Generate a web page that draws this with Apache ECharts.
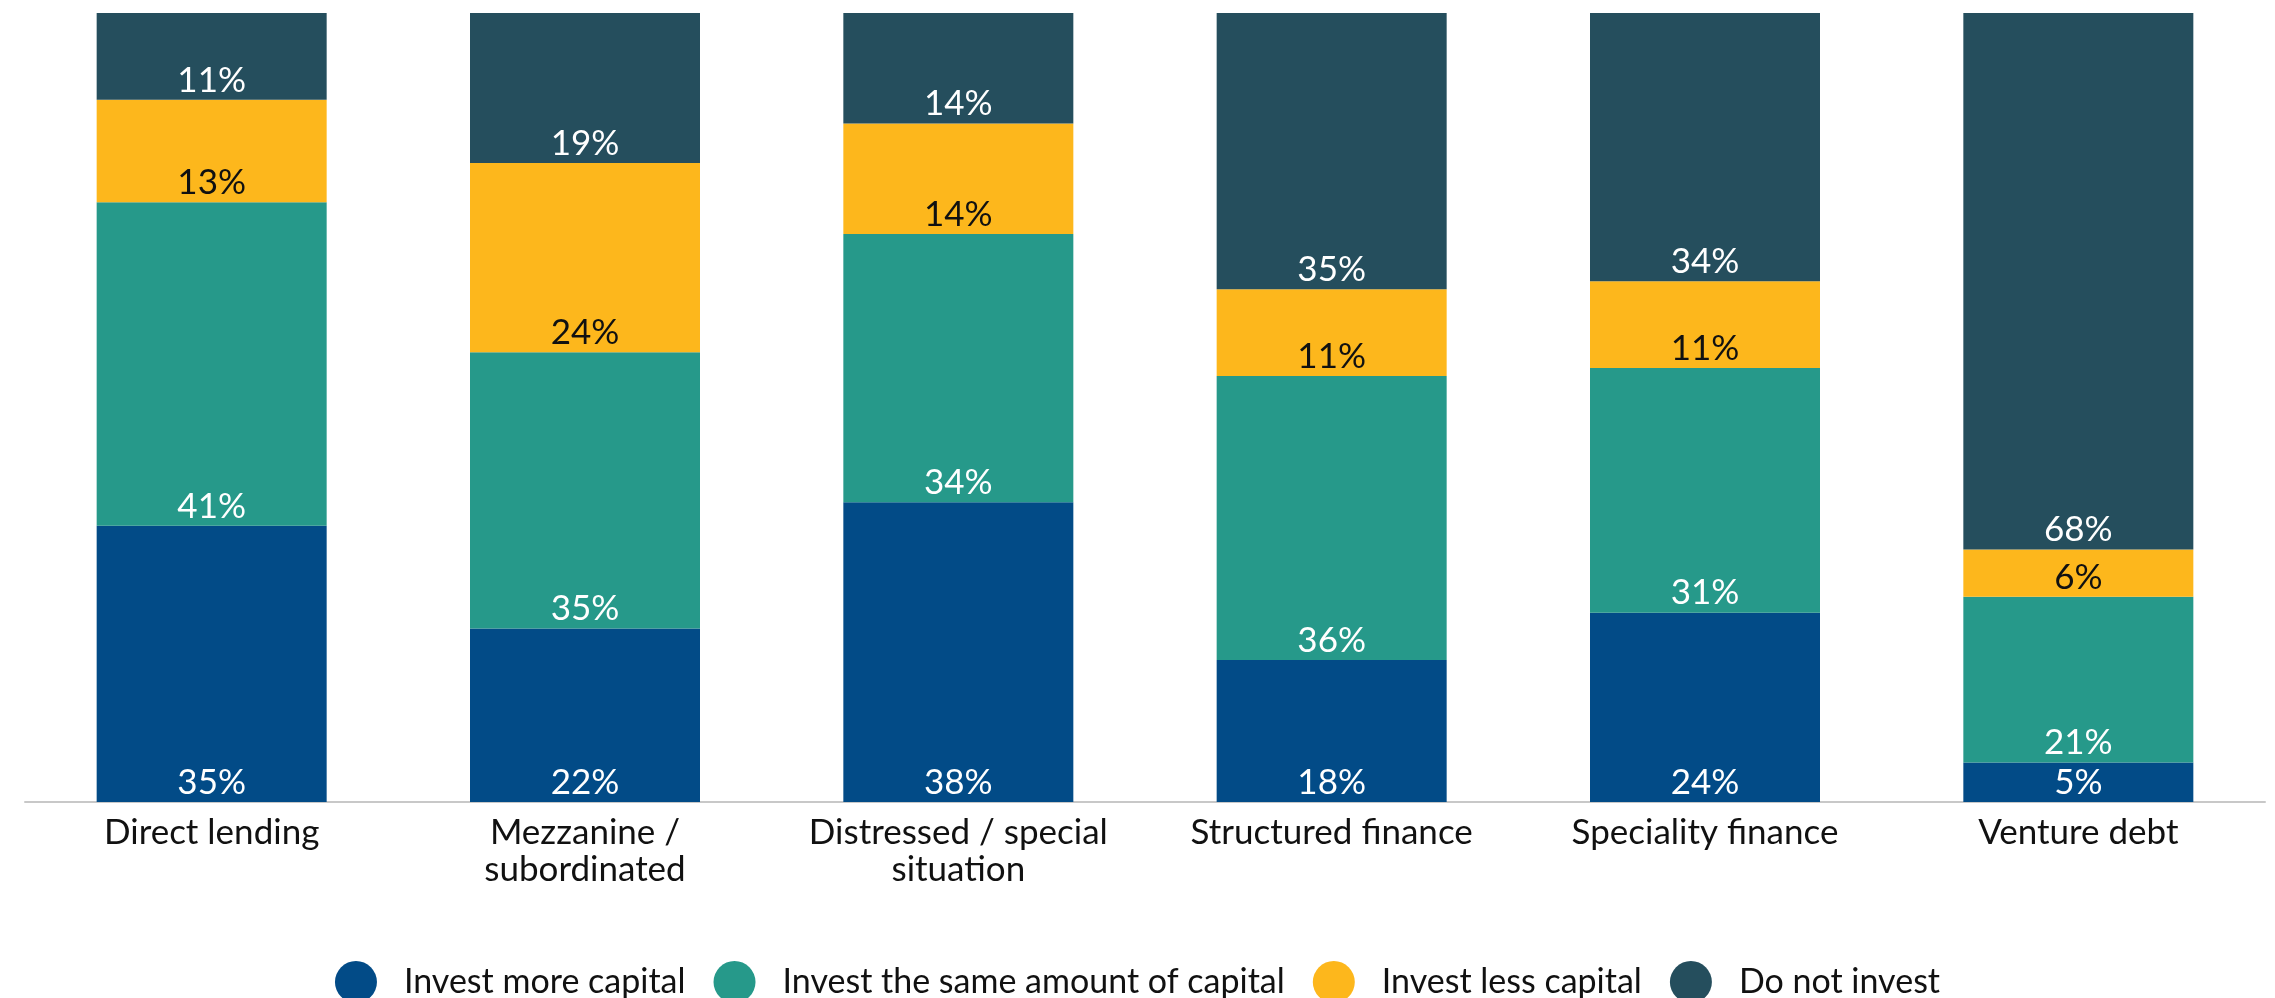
<!DOCTYPE html>
<html>
<head>
<meta charset="utf-8">
<script src="https://cdn.jsdelivr.net/npm/echarts@6/dist/echarts.min.js"></script>
<style>
html,body{margin:0;padding:0;background:#fff;}
#c{width:2275px;height:998px;}
</style>
</head>
<body>
<div id="c"></div>
<script>
const categories = ['Direct lending', 'Mezzanine /\nsubordinated', 'Distressed / special\nsituation', 'Structured finance', 'Speciality finance', 'Venture debt'];
const seriesNames = ['Invest more capital', 'Invest the same amount of capital', 'Invest less capital', 'Do not invest'];
const investMore = [35, 22, 38, 18, 24, 5];
const investSame = [41, 35, 34, 36, 31, 21];
const investLess = [13, 24, 14, 11, 11, 6];
const doNotInvest = [11, 19, 14, 35, 34, 68];

const colors = ['#024B87', '#26998A', '#FDB71C', '#254E5D'];
const labelColors = ['#ffffff', '#ffffff', '#111111', '#ffffff'];
const FONT = 'Lato';
const values = [investMore, investSame, investLess, doNotInvest];

const chart = echarts.init(document.getElementById('c'), null, {renderer: 'canvas'});
chart.setOption({
  animation: false,
  textStyle: {fontFamily: FONT},
  grid: {left: 25, right: 10, top: 13, bottom: 196, containLabel: false},
  legend: {
    data: seriesNames,
    left: 'center',
    top: 956,
    icon: 'circle',
    itemWidth: 42,
    itemHeight: 42,
    itemGap: 28,
    textStyle: {fontFamily: FONT, fontSize: 34, color: '#111', padding: [0, 0, 0, 22]}
  },
  xAxis: {
    type: 'category',
    data: categories,
    axisLine: {show: true, lineStyle: {color: '#C8C8C8', width: 2}},
    axisTick: {show: false},
    axisLabel: {fontFamily: FONT, fontSize: 35, color: '#111', lineHeight: 37, margin: 12, interval: 0}
  },
  yAxis: {type: 'value', min: 0, max: 100, show: false, splitLine: {show: false}},
  series: values.map((v, i) => ({
    name: seriesNames[i],
    type: 'bar',
    stack: 'total',
    data: v,
    barWidth: 230,
    itemStyle: {color: colors[i]},
    label: {
      show: true,
      position: 'insideBottom',
      distance: 2,
      formatter: '{c}%',
      fontFamily: FONT,
      fontSize: 35,
      color: labelColors[i]
    }
  }))
});
</script>
</body>
</html>
